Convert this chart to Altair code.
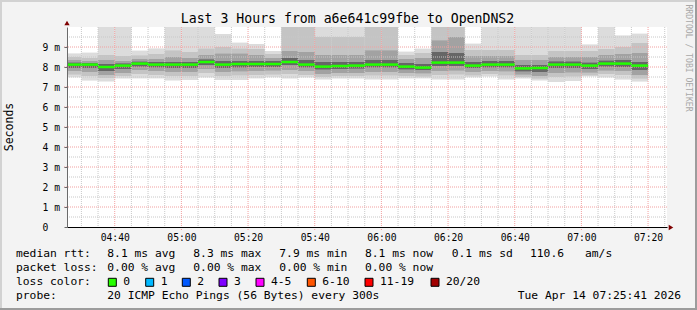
import altair as alt
import pandas as pd

MONO = "DejaVu Sans Mono"

title_text = "Last 3 Hours from a6e641c99fbe to OpenDNS2"
credit_text = "RRDTOOL / TOBI OETIKER"
y_title = "Seconds"

window_start = "04:25:41"
window_end = "07:25:41"

bar_start = ["04:25", "04:30", "04:35", "04:40", "04:45", "04:50", "04:55",
             "05:00", "05:05", "05:10", "05:15", "05:20", "05:25", "05:30",
             "05:35", "05:40", "05:45", "05:50", "05:55", "06:00", "06:05",
             "06:10", "06:15", "06:20", "06:25", "06:30", "06:35", "06:40",
             "06:45", "06:50", "06:55", "07:00", "07:05", "07:10", "07:15"]
step_minutes = 5

median_ms = [8.12, 8.12, 8.00, 8.07, 8.17, 8.12, 8.12, 8.12, 8.25, 8.12,
             8.15, 8.15, 8.15, 8.25, 8.12, 8.02, 8.05, 8.07, 8.12, 8.12,
             8.02, 7.97, 8.22, 8.22, 8.07, 8.12, 8.12, 7.93, 7.95, 8.12,
             8.12, 8.07, 8.17, 8.17, 8.07]

smoke_max = [8.68, 8.72, 10.6, 10.6, 8.82, 8.93, 10.6, 10.6, 10.6, 9.65,
             9.22, 9.15, 8.80, 10.6, 10.6, 10.6, 10.6, 10.6, 10.6, 10.6,
             8.77, 8.92, 10.6, 10.6, 9.17, 10.6, 10.6, 10.6, 10.6, 10.6,
             10.6, 9.13, 10.6, 9.58, 9.67]
smoke_hi2 = [8.50, 8.45, 8.60, 8.55, 8.58, 8.65, 8.83, 8.75, 8.92, 9.00,
             8.92, 8.90, 8.65, 10.2, 10.2, 9.50, 9.50, 9.50, 10.2, 10.2,
             8.60, 8.70, 10.2, 10.2, 8.85, 8.85, 8.85, 8.60, 8.60, 8.80,
             8.80, 8.80, 8.90, 9.00, 9.20]
smoke_hi1 = [8.35, 8.30, 8.35, 8.30, 8.40, 8.40, 8.50, 8.45, 8.60, 8.67,
             8.67, 8.60, 8.45, 8.80, 8.75, 8.60, 8.60, 8.60, 8.83, 8.83,
             8.40, 8.45, 9.33, 9.50, 8.55, 8.55, 8.55, 8.35, 8.35, 8.50,
             8.50, 8.50, 8.60, 8.65, 8.70]
smoke_hi0 = [8.22, 8.20, 8.15, 8.18, 8.27, 8.25, 8.25, 8.25, 8.38, 8.30,
             8.30, 8.30, 8.30, 8.45, 8.35, 8.25, 8.25, 8.25, 8.35, 8.35,
             8.20, 8.15, 8.75, 8.70, 8.25, 8.30, 8.30, 8.10, 8.10, 8.28,
             8.28, 8.22, 8.32, 8.35, 8.25]
smoke_lo0 = [7.95, 7.95, 7.80, 7.90, 8.02, 7.98, 7.95, 7.95, 8.10, 7.95,
             7.98, 8.00, 8.00, 8.10, 7.98, 7.88, 7.90, 7.92, 7.98, 7.98,
             7.88, 7.85, 8.05, 8.05, 7.95, 7.98, 7.98, 7.78, 7.75, 7.95,
             7.95, 7.90, 8.02, 8.00, 7.85]
smoke_lo1 = [7.80, 7.75, 7.60, 7.70, 7.85, 7.80, 7.75, 7.75, 7.90, 7.75,
             7.78, 7.80, 7.82, 7.85, 7.80, 7.65, 7.70, 7.70, 7.75, 7.75,
             7.70, 7.68, 7.80, 7.82, 7.75, 7.80, 7.78, 7.62, 7.55, 7.70,
             7.72, 7.72, 7.82, 7.80, 7.60]
smoke_lo2 = [7.62, 7.55, 7.45, 7.55, 7.65, 7.60, 7.55, 7.55, 7.70, 7.55,
             7.58, 7.60, 7.62, 7.65, 7.60, 7.50, 7.55, 7.55, 7.58, 7.58,
             7.55, 7.52, 7.60, 7.62, 7.58, 7.65, 7.58, 7.50, 7.42, 7.50,
             7.52, 7.58, 7.65, 7.60, 7.42]
smoke_min = [7.48, 7.32, 7.27, 7.43, 7.43, 7.43, 7.32, 7.35, 7.48, 7.35,
             7.35, 7.43, 7.48, 7.43, 7.48, 7.37, 7.43, 7.43, 7.38, 7.38,
             7.43, 7.43, 7.38, 7.38, 7.48, 7.53, 7.38, 7.43, 7.33, 7.25,
             7.30, 7.53, 7.48, 7.37, 7.27]

x_tick_labels = ["04:40", "05:00", "05:20", "05:40", "06:00", "06:20",
                 "06:40", "07:00", "07:20"]
y_tick_values = [0, 1, 2, 3, 4, 5, 6, 7, 8, 9]
y_max = 10

rtt_label = "median rtt:"
rtt_stats = ["8.1 ms avg", "8.3 ms max", "7.9 ms min", "8.1 ms now",
             "0.1 ms sd", "110.6", "am/s"]
loss_label = "packet loss:"
loss_stats = ["0.00 % avg", "0.00 % max", "0.00 % min", "0.00 % now"]
color_label = "loss color:"
loss_names = ["0", "1", "2", "3", "4-5", "6-10", "11-19", "20/20"]
loss_colors = ["#26ff00", "#00b8ff", "#0059ff", "#7f00ff", "#ff00ff",
               "#ff5500", "#ff0000", "#a10000"]
probe_label = "probe:"
probe_text = "20 ICMP Echo Pings (56 Bytes) every 300s"
date_text = "Tue Apr 14 07:25:41 2026"


def to_min(s):
    p = [int(v) for v in s.split(":")]
    return p[0] * 60 + p[1] + (p[2] / 60 if len(p) > 2 else 0)


starts = [to_min(s) for s in bar_start]
df = pd.DataFrame({
    "start": starts,
    "end": [s + step_minutes for s in starts],
    "median": median_ms,
    "mx": smoke_max, "hi2": smoke_hi2, "hi1": smoke_hi1, "hi0": smoke_hi0,
    "lo0": smoke_lo0, "lo1": smoke_lo1, "lo2": smoke_lo2, "mn": smoke_min,
})

x0, x1 = to_min(window_start), to_min(window_end)
xscale = alt.Scale(domain=[x0, x1], nice=False, zero=False)
yscale = alt.Scale(domain=[0, y_max], nice=False, zero=True)

tick_min = [to_min(t) for t in x_tick_labels]
minor_x = [m for m in range(int(x0) + 5 - int(x0) % 5, int(x1) + 1, 5)]
minor_y = [v + 0.5 for v in range(0, y_max)]
major_y = list(range(1, y_max))

OX, OY = 67, 27
W, H = 600, 200

x_label_expr = "[" + ",".join(f"'{t}'" for t in x_tick_labels) + "][indexof([" + \
    ",".join(str(m) for m in tick_min) + "], datum.value)]"
x_axis = alt.Axis(
    values=tick_min, labelExpr=x_label_expr, grid=False, title=None,
    domainColor="#000000", domainWidth=1, ticks=False,
    labelFont=MONO, labelFontSize=9.7, labelColor="#000000",
    labelPadding=5, labelFlush=False, labelOverlap=False, zindex=1)
y_axis = alt.Axis(
    values=y_tick_values,
    labelExpr="datum.value == 0 ? '0' : datum.value + ' m'",
    grid=False, title=None, domainColor="#6a6a6a", domainWidth=1,
    tickSize=3, tickColor="#6a6a6a", labelAlign="left", labelPadding=22,
    labelFont=MONO, labelFontSize=9.7, labelColor="#000000",
    labelBaseline="middle", zindex=1)

layers = []

for lo, hi, col in [("mn", "mx", "#dcdcdc"), ("lo2", "hi2", "#c4c4c4"),
                    ("lo1", "hi1", "#a2a2a2"), ("lo0", "hi0", "#666666")]:
    layers.append(
        alt.Chart(df).mark_rect(color=col, clip=True).encode(
            x=alt.X("start:Q", scale=xscale, axis=x_axis),
            x2="end:Q",
            y=alt.Y(f"{lo}:Q", scale=yscale, axis=y_axis),
            y2=f"{hi}:Q",
        )
    )

gx_minor = pd.DataFrame({"start": [m for m in minor_x if m not in tick_min]})
gx_major = pd.DataFrame({"start": tick_min})
gy_minor = pd.DataFrame({"median": minor_y})
gy_major = pd.DataFrame({"median": major_y})

layers.append(alt.Chart(gx_minor).mark_rule(color="#c8c8c8", strokeDash=[1, 1], strokeWidth=1).encode(
    x=alt.X("start:Q", scale=xscale, axis=x_axis), y=alt.value(0), y2=alt.value(H)))
layers.append(alt.Chart(gy_minor).mark_rule(color="#c8c8c8", strokeDash=[1, 1], strokeWidth=1).encode(
    y=alt.Y("median:Q", scale=yscale, axis=y_axis), x=alt.value(0), x2=alt.value(W)))
layers.append(alt.Chart(gx_major).mark_rule(color="#f2a0a0", strokeDash=[1, 1], strokeWidth=1).encode(
    x=alt.X("start:Q", scale=xscale, axis=x_axis), y=alt.value(0), y2=alt.value(H + 4)))
layers.append(alt.Chart(gy_major).mark_rule(color="#f2a0a0", strokeDash=[1, 1], strokeWidth=1).encode(
    y=alt.Y("median:Q", scale=yscale, axis=y_axis), x=alt.value(-3), x2=alt.value(W)))

layers.append(
    alt.Chart(df).mark_rule(color="#22ff00", strokeWidth=2.5, clip=True).encode(
        x=alt.X("start:Q", scale=xscale, axis=x_axis),
        x2="end:Q",
        y=alt.Y("median:Q", scale=yscale, axis=y_axis),
    )
)

one = pd.DataFrame({"a": [0]})


def txt(s, ax, ay, size=11.3, align="left", color="#000000", angle=0, baseline="middle"):
    kw = dict(text=s, font=MONO, fontSize=size, align=align, baseline=baseline, color=color)
    if angle:
        kw["angle"] = angle
    return alt.Chart(one).mark_text(**kw).encode(x=alt.value(ax - OX), y=alt.value(ay - OY))


layers.append(alt.Chart(one).mark_point(shape="triangle-up", filled=True, size=28, color="#7f0000", opacity=1).encode(
    x=alt.value(0), y=alt.value(-4)))
layers.append(alt.Chart(one).mark_point(shape="triangle-right", filled=True, size=28, color="#7f0000", opacity=1).encode(
    x=alt.value(W + 4), y=alt.value(H + 0.5)))

layers.append(alt.Chart(one).mark_rule(color="#d2d2d2", strokeWidth=2).encode(
    x=alt.value(-OX + 1), y=alt.value(-OY), y2=alt.value(310 - OY)))
layers.append(alt.Chart(one).mark_rule(color="#d2d2d2", strokeWidth=2).encode(
    y=alt.value(-OY + 1), x=alt.value(-OX), x2=alt.value(697 - OX)))
layers.append(alt.Chart(one).mark_rule(color="#9c9c9c", strokeWidth=2).encode(
    x=alt.value(697 - OX - 1), y=alt.value(-OY), y2=alt.value(310 - OY)))
layers.append(alt.Chart(one).mark_rule(color="#9c9c9c", strokeWidth=2).encode(
    y=alt.value(310 - OY - 1), x=alt.value(-OX), x2=alt.value(697 - OX)))

layers.append(txt(title_text, 347.5, 19, size=13.2, align="center"))
layers.append(txt(credit_text, 688, 58, size=8.1, align="center", color="#a8a8a8", angle=90))
layers.append(txt(y_title, 10, 127, size=11.5, align="center", angle=270))

row_y = [254.3, 267.7, 282.3, 295.7]
col_x = [107.3, 193.3, 279.3, 365, 451.7, 530, 585]

layers.append(txt(rtt_label, 16, row_y[0]))
for s, cx in zip(rtt_stats, col_x):
    layers.append(txt(s, cx, row_y[0]))
layers.append(txt(loss_label, 16, row_y[1]))
for s, cx in zip(loss_stats, col_x):
    layers.append(txt(s, cx, row_y[1]))
layers.append(txt(color_label, 16, row_y[2]))
sq_x = [108.3, 145.7, 182.3, 219, 256, 307.3, 365, 431]
for name, col, sx in zip(loss_names, loss_colors, sq_x):
    layers.append(alt.Chart(one).mark_square(size=64, color=col, stroke="#000000", strokeWidth=1, opacity=1).encode(
        x=alt.value(sx + 4 - OX), y=alt.value(row_y[2] - OY)))
    layers.append(txt(name, sx + 15, row_y[2]))
layers.append(txt(probe_label, 16, row_y[3]))
layers.append(txt(probe_text, 107.3, row_y[3]))
layers.append(txt(date_text, 681, row_y[3], align="right"))

chart = alt.layer(*layers).properties(
    width=W, height=H,
    padding={"left": OX, "top": OY, "right": 697 - OX - W, "bottom": 310 - OY - H},
    autosize=alt.AutoSizeParams(type="none"),
    background="#f3f3f3",
).configure_view(fill="#ffffff", stroke=None)

chart.save("out.html", embed_options={"renderer": "svg", "actions": False})
